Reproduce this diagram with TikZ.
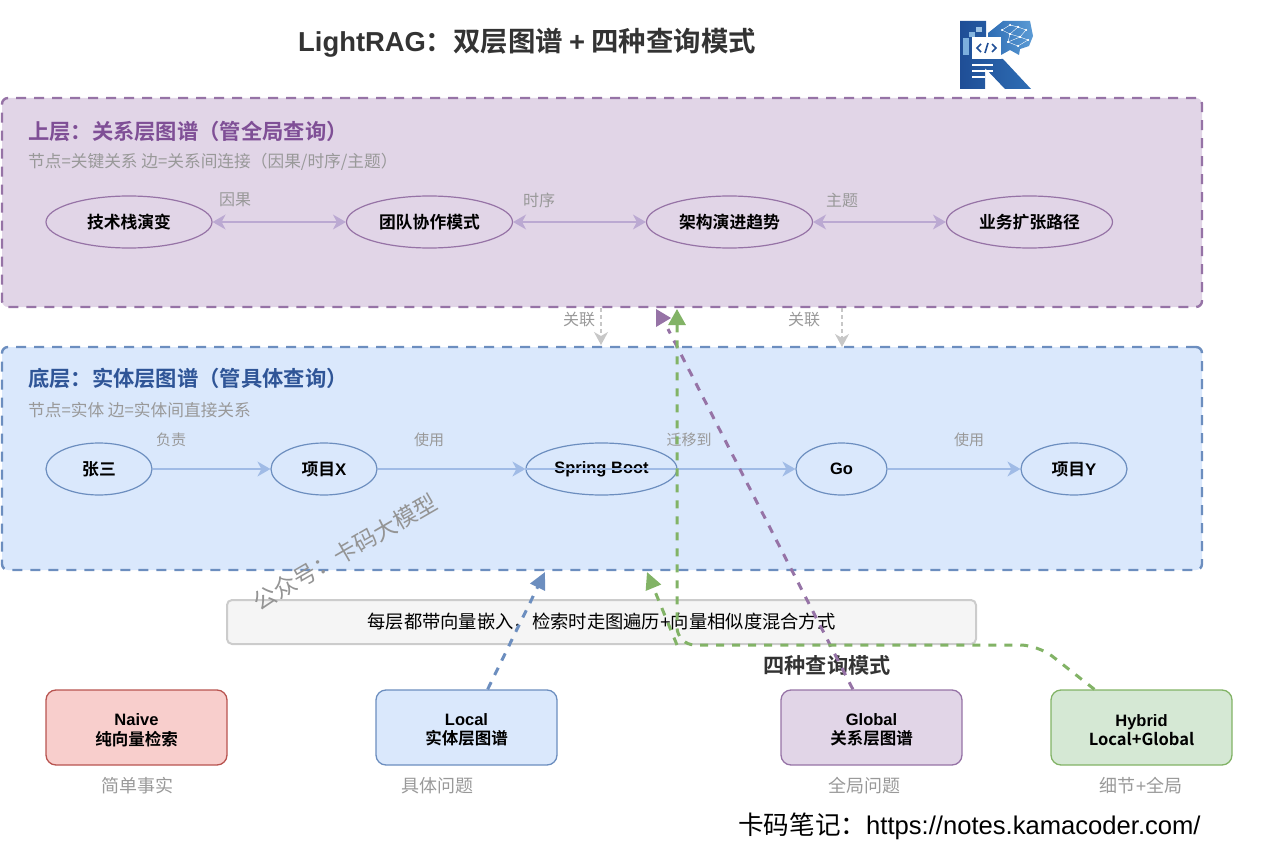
\documentclass[tikz,border=0pt]{standalone}
\usepackage{fontspec}
\setmainfont{Noto Sans CJK SC}[BoldFont={Noto Sans CJK SC Bold}]
\newfontfamily\latn{Liberation Sans}
\usetikzlibrary{arrows.meta,shapes.geometric}

\definecolor{purplefill}{HTML}{E1D5E7}
\definecolor{purpleline}{HTML}{9673A6}
\definecolor{purplehead}{HTML}{7F4F96}
\definecolor{purplelink}{HTML}{BBA9D2}
\definecolor{bluefill}{HTML}{DAE8FC}
\definecolor{blueline}{HTML}{6C8EBF}
\definecolor{bluehead}{HTML}{2F5597}
\definecolor{bluelink}{HTML}{A0BBE6}
\definecolor{redfill}{HTML}{F8CECC}
\definecolor{redline}{HTML}{B85450}
\definecolor{greenfill}{HTML}{D5E8D4}
\definecolor{greenline}{HTML}{82B366}
\definecolor{notegray}{HTML}{999999}
\definecolor{logoblue}{HTML}{2E6DB4}
\definecolor{logodark}{HTML}{1F4E96}
\definecolor{logolight}{HTML}{5B9BD5}

\newcommand{\fsize}[1]{\fontsize{#1}{#1}\selectfont}

\tikzset{
    layerbox/.style={draw, rounded corners=6, line width=2.4, dash pattern=on 10 off 8, inner sep=0, minimum width=1200},
    heading/.style={anchor=west, inner sep=0, font=\fsize{21.3}\bfseries},
    subnote/.style={anchor=west, inner sep=0, text=notegray, font=\fsize{16.7}},
    entity/.style={draw, ellipse, line width=1.2, inner sep=0, minimum height=52, font=\fsize{16.8}\bfseries},
    linknote/.style={inner sep=0, text=notegray, font=\fsize{16}},
    querybox/.style={draw, rounded corners=10, line width=1.3, inner sep=0, minimum width=181, minimum height=75,
        align=center, font=\fsize{16.5}\bfseries},
    casenote/.style={inner sep=0, text=notegray, font=\fsize{18}},
    softlink/.style={line width=1.2, -{Stealth[length=13, width=15, inset=4]}},
    softboth/.style={line width=1.2, {Stealth[length=13, width=15, inset=4]}-{Stealth[length=13, width=15, inset=4]}},
    querylink/.style={line width=3, dash pattern=on 8 off 8},
}

\begin{document}
\begin{tikzpicture}[x=1pt, y=-1pt]

    \useasboundingbox (0,0) rectangle (1270,859);

    %% Title and logo
    \node[inner sep=0, text=black!80, font=\fsize{27.4}\bfseries] (title) at (527,42.5)
        {{\latn LightRAG}：双层图谱 {\latn +} 四种查询模式};

    % K shape
    \shade[left color=logodark, right color=logoblue] (960,21) -- (986,21) -- (986,59) -- (1003,59) -- (1031,89)
        -- (1005,89) -- (985,68) -- (985,89) -- (960,89) -- cycle;
    \shade[left color=logoblue, right color=logolight] (988,33) -- (1003,21) -- (1030,21) -- (1033,36) -- (1029,46)
        -- (1020,49) -- (1019,55) -- (1010,50) -- (1001,55) -- (1001,37) -- (988,37) -- cycle;
    \fill[logolight!60] (976,27) rectangle (982,32);
    \fill[logolight!75] (969,32) rectangle (975,37);
    \fill[logolight!80] (963,38) rectangle (969,55);
    \fill[white] (972,37) rectangle (1001,59);
    \draw[logodark, line width=1.6] (981,44) -- (977,48) -- (981,52);
    \draw[logodark, line width=1.6] (992,44) -- (996,48) -- (992,52);
    \draw[logodark, line width=1.6] (988,43) -- (985,53);
    \fill[white] (972,64) rectangle (993,66);
    \fill[white] (972,70) rectangle (993,72);
    \fill[white] (972,76) rectangle (985,78);

    % Brain network
    \foreach \xa/\ya/\xb/\yb in {1002/30/1010/25, 1010/25/1018/27, 1018/27/1026/30, 1002/30/1010/34, 1010/34/1018/27,
        1010/34/1020/37, 1020/37/1026/30, 1020/37/1028/40, 1010/34/1008/42, 1008/42/1020/37, 1008/42/1018/46, 1018/46/1028/40} {
        \draw[white, line width=0.4] (\xa,\ya) -- (\xb,\yb);
        \fill[white] (\xa,\ya) circle (1);
        \fill[white] (\xb,\yb) circle (1);
    }

    %% Upper layer
    \node[layerbox, fill=purplefill, draw=purpleline, minimum height=209] (toplayer) at (602,202.5) {};
    \node[heading, text=purplehead] (topheading) at (28,131) {上层：关系层图谱（管全局查询）};
    \node[subnote] (topnote) at (28,162) {节点=关键关系 边=关系间连接（因果/时序/主题）};

    % Relations
    \node[entity, draw=purpleline, minimum width=166] (tech) at (129,222) {技术栈演变};
    \node[entity, draw=purpleline, minimum width=166] (team) at (429.5,222) {团队协作模式};
    \node[entity, draw=purpleline, minimum width=166] (arch) at (729.5,222) {架构演进趋势};
    \node[entity, draw=purpleline, minimum width=166] (biz) at (1029.5,222) {业务扩张路径};

    \draw[softboth, purplelink] (tech) -- (team);
    \draw[softboth, purplelink] (team) -- (arch);
    \draw[softboth, purplelink] (arch) -- (biz);

    \node[linknote] (cause) at (235,200) {因果};
    \node[linknote] (order) at (539,200) {时序};
    \node[linknote] (topic) at (842,200) {主题};

    %% Lower layer
    \node[layerbox, fill=bluefill, draw=blueline, minimum height=223] (lowlayer) at (602,458.5) {};
    \node[heading, text=bluehead] (lowheading) at (28,378) {底层：实体层图谱（管具体查询）};
    \node[subnote] (lownote) at (28,410) {节点=实体 边=实体间直接关系};

    % Entities
    \node[entity, draw=blueline, minimum width=106] (zhang) at (99,469) {张三};
    \node[entity, draw=blueline, minimum width=106] (projx) at (324,469) {项目{\latn X}};
    \node[entity, draw=blueline, minimum width=151, font=\fsize{16.5}\bfseries\latn] (spring) at (601.5,469) {Spring Boot};
    \node[entity, draw=blueline, minimum width=91, font=\fsize{16.5}\bfseries\latn] (go) at (841.5,469) {Go};
    \node[entity, draw=blueline, minimum width=106] (projy) at (1074,469) {项目{\latn Y}};

    \draw[softlink, bluelink] (zhang) -- (projx);
    \draw[softlink, bluelink] (projx) -- (spring);
    \draw[softlink, bluelink] (spring.west) -- (go);
    \draw[softlink, bluelink] (go) -- (projy);

    \node[linknote, font=\fsize{15}] (owns) at (171,440) {负责};
    \node[linknote, font=\fsize{15}] (uses) at (429,440) {使用};
    \node[linknote, font=\fsize{15}] (moves) at (689,440) {迁移到};
    \node[linknote, font=\fsize{15}] (usesgo) at (969,440) {使用};

    % Between the layers
    \coordinate (tiea) at (601,308);
    \coordinate (tieb) at (842,308);
    \coordinate (tiec) at (601,345);
    \coordinate (tied) at (842,347);
    \draw[line width=1.2, black!22, dash pattern=on 4 off 3, -{Stealth[length=13, width=14, inset=4]}] (tiea) -- (tiec);
    \draw[line width=1.2, black!22, dash pattern=on 4 off 3, -{Stealth[length=13, width=14, inset=4]}] (tieb) -- (tied);
    \node[linknote] (tienotea) at (579,320) {关联};
    \node[linknote] (tienoteb) at (804,320) {关联};

    %% Shared note
    \node[draw=black!20, fill=black!4, rounded corners=5, line width=2, inner sep=0, minimum width=749, minimum height=44,
        font=\fsize{18.3}] (shared) at (601.5,622) {每层都带向量嵌入，检索时走图遍历{\latn +}向量相似度混合方式};

    %% Query modes
    \node[inner sep=0, text=black!80, font=\fsize{21.2}\bfseries] (modes) at (827,665.5) {四种查询模式};

    \node[querybox, fill=redfill, draw=redline] (naive) at (136.5,727.5) {\rule{0pt}{17pt}{\latn Naive}\\[3]纯向量检索};
    \node[querybox, fill=bluefill, draw=blueline] (local) at (466.5,727.5) {\rule{0pt}{17pt}{\latn Local}\\[3]实体层图谱};
    \node[querybox, fill=purplefill, draw=purpleline] (global) at (871.5,727.5) {\rule{0pt}{17pt}{\latn Global}\\[3]关系层图谱};
    \node[querybox, fill=greenfill, draw=greenline] (hybrid) at (1141.5,727.5) {\rule{0pt}{17pt}\latn Hybrid\\[2]Local+Global};

    \node[casenote] (naivecase) at (137,786) {简单事实};
    \node[casenote] (localcase) at (437,786) {具体问题};
    \node[casenote] (globalcase) at (864,786) {全局问题};
    \node[casenote] (hybridcase) at (1141,786) {细节{\latn +}全局};

    % Query links
    \coordinate (localtip) at (545,572);
    \coordinate (globaltip) at (668,329);
    \coordinate (hybridtop) at (677,309);
    \coordinate (hybridlow) at (647,572);
    \coordinate (hybridturn) at (677,645);

    \draw[querylink, blueline, -{Triangle[length=17, width=16]}] (local.61) -- (localtip);
    \draw[querylink, purpleline] (global.116) -- (globaltip);
    \fill[purpleline] (656,309) -- (671,318) -- (656,327) -- cycle;
    \draw[querylink, greenline, -{Triangle[length=16, width=17]}, rounded corners=18]
        (hybrid.141) -- (1038,645) -- (hybridturn) -- (hybridtop);
    \draw[querylink, greenline, -{Triangle[length=17, width=16]}] (hybridturn) -- (hybridlow);

    %% Watermark and footer
    \node[inner sep=0, rotate=30, text=black!42, font=\fsize{23}] (mark) at (345,552) {公众号：卡码大模型};
    \node[anchor=west, inner sep=0, font=\fsize{25.6}] (footer) at (738,826.5) {卡码笔记：{\latn https://notes.kamacoder.com/}};

\end{tikzpicture}
\end{document}
